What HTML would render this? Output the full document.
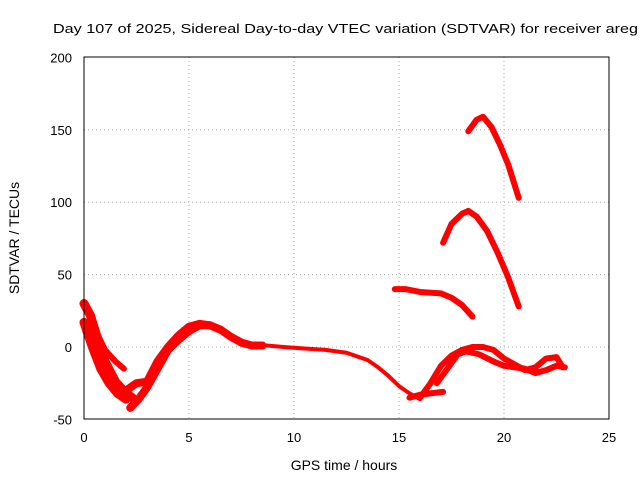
<!DOCTYPE html>
<html><head><meta charset="utf-8"><style>
html,body{margin:0;padding:0;background:#fff;}
svg{display:block;font-family:"Liberation Sans",sans-serif;}
</style></head><body>
<svg id="chart" width="640" height="480" viewBox="0 0 640 480">
<text x="53" y="33" font-size="13" textLength="585" lengthAdjust="spacingAndGlyphs">Day 107 of 2025, Sidereal Day-to-day VTEC variation (SDTVAR) for receiver areg</text>
<g id="grid"></g>
<g id="ticks" font-size="13"></g>
<g id="series"></g>
<rect x="84" y="57" width="525" height="362" fill="none" stroke="#000" stroke-width="1"/>
<text x="344" y="470" font-size="14" text-anchor="middle">GPS time / hours</text>
<text transform="translate(19,238) rotate(-90)" font-size="14" text-anchor="middle">SDTVAR / TECUs</text>
</svg>
<script>
const xTicks=[0,5,10,15,20,25];
const yTicks=[-50,0,50,100,150,200];
const trackA1=[[0,30],[0.3,22],[0.6,8],[1,-10],[1.5,-24],[2,-32],[2.3,-35]];
const trackA2=[[0,17],[0.4,0],[0.8,-15],[1.2,-25],[1.6,-32],[2,-36]];
const trackA3=[[0.2,25],[0.6,10],[1,-2],[1.5,-10],[1.9,-15]];
const trackB1=[[2.2,-42],[2.6,-36],[3,-28],[3.5,-15],[4,-2],[4.5,5],[5,11],[5.5,15],[6,15],[6.5,12],[7,7],[7.5,3],[8,1],[8.5,1]];
const trackB2=[[2,-30],[2.5,-25],[3,-24],[3.5,-10],[4,0],[4.5,8],[5,14],[5.5,16],[6,15]];
const trackB3=[[8.7,1],[9.5,0],[10.5,-1],[11.5,-2],[12.5,-4],[13.5,-9],[14,-14],[14.5,-20],[15,-27],[15.5,-32],[16,-36]];
const trackC=[[15.5,-35],[16,-33],[16.5,-32],[17.1,-31]];
const trackD1=[[16,-35],[16.5,-25],[17,-13],[17.5,-6],[18,-2],[18.5,0],[19,0],[19.5,-2],[20,-8],[20.5,-12],[21,-16],[21.5,-14],[22,-8],[22.5,-7],[22.8,-14]];
const trackD2=[[16.8,-25],[17.3,-15],[17.8,-5],[18.2,-3],[18.8,-5],[19.5,-10],[20,-13],[20.5,-14],[21,-15],[21.5,-18],[22,-16],[22.5,-13],[22.9,-14]];
const trackE=[[14.8,40],[15.3,40],[16,38],[17,37],[17.5,34],[18,29],[18.5,21]];
const trackF=[[17.1,72],[17.5,85],[18,92],[18.3,94],[18.7,90],[19.2,80],[19.7,65],[20.2,48],[20.7,28]];
const trackG=[[18.3,149],[18.7,157],[19,159],[19.4,152],[19.8,140],[20.2,126],[20.7,103]];
const tracks=[trackA1,trackA2,trackA3,trackB1,trackB2,trackB3,trackC,trackD1,trackD2,trackE,trackF,trackG];
const widths=[9,9,6,8,8,4,6,6,6,6,6,6];
const X=h=>84+h*21, Y=v=>347-v*1.448;
const NS="http://www.w3.org/2000/svg";
const grid=document.getElementById('grid'), ticks=document.getElementById('ticks'), series=document.getElementById('series');
function mk(tag,attrs,parent){const e=document.createElementNS(NS,tag);for(const k in attrs)e.setAttribute(k,attrs[k]);parent.appendChild(e);return e;}
xTicks.forEach(t=>{
  if(t>0&&t<25){const l=mk('line',{x1:X(t),x2:X(t),y1:57,y2:419,stroke:'#aaa','stroke-dasharray':'1,3'},grid);
  
  }
  const tx=mk('text',{x:X(t),y:442,'text-anchor':'middle'},ticks);tx.textContent=t;
  
  
});
yTicks.forEach(t=>{
  if(t>-50&&t<200){const l=mk('line',{x1:84,x2:609,y1:Y(t),y2:Y(t),stroke:'#aaa','stroke-dasharray':'1,3'},grid);
  
  }
  const tx=mk('text',{x:72,y:Y(t)+5,'text-anchor':'end'},ticks);tx.textContent=t;
  
  
});
tracks.forEach((tr,i)=>{
  const p=mk('polyline',{points:tr.map(d=>X(d[0])+','+Y(d[1])).join(' '),fill:'none',stroke:'#f00','stroke-width':widths[i],'stroke-linejoin':'round','stroke-linecap':'round'},series);
  
  
});
</script>
</body></html>
